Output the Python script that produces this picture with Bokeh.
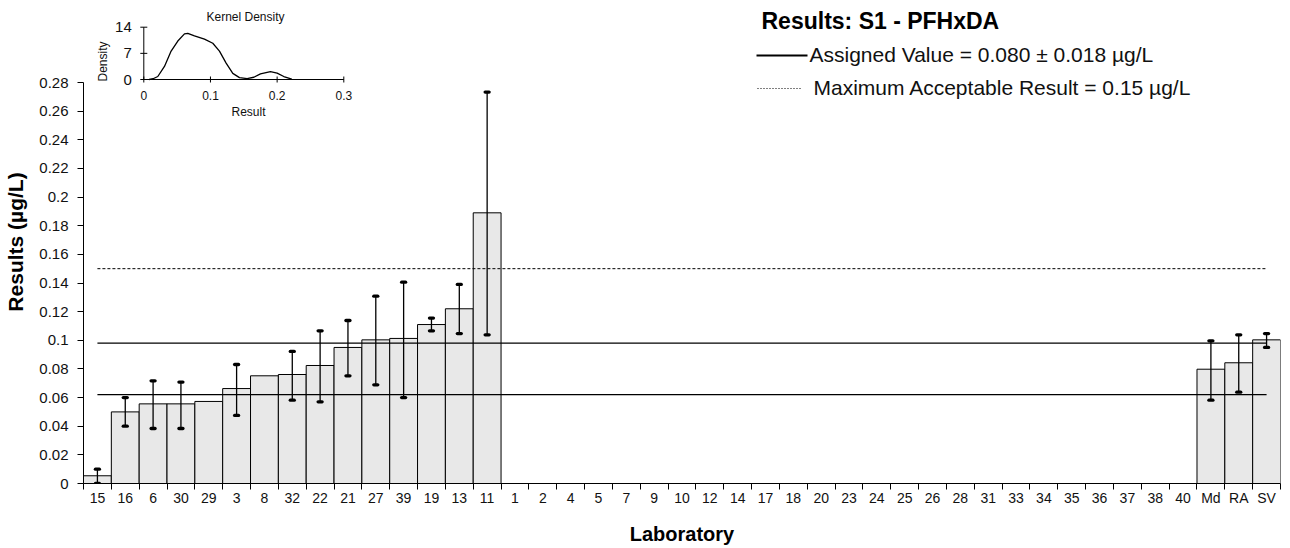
import math
from bokeh.plotting import figure
from bokeh.models import Range1d, FixedTicker, ColumnDataSource, Whisker, TeeHead
from bokeh.embed import file_html
from bokeh.resources import INLINE
from bokeh.core.properties import value

# ---------------- data ----------------
labs = ["15", "16", "6", "30", "29", "3", "8", "32", "22", "21", "27", "39", "19", "13", "11",
        "1", "2", "4", "5", "7", "9", "10", "12", "14", "17", "18", "20", "23", "24", "25",
        "26", "28", "31", "33", "34", "35", "36", "37", "38", "40",
        "Md", "RA", "SV"]
results = [0.0054, 0.050, 0.0556, 0.0556, 0.0573, 0.0663, 0.0752, 0.0761, 0.0824, 0.095,
           0.1003, 0.1013, 0.111, 0.122, 0.189] + [None] * 25 + [0.0798, 0.0843, 0.1003]
err_hi = [0.010, 0.060, 0.0717, 0.0708, None, 0.0831, None, 0.0922, 0.1066, 0.1138,
          0.1308, 0.1406, 0.1155, 0.139, 0.2733] + [None] * 25 + [0.0996, 0.1038, 0.1047]
err_lo = [0.0, 0.040, 0.0384, 0.0384, None, 0.0475, None, 0.0582, 0.057, 0.0752,
          0.0689, 0.060, 0.1066, 0.1047, 0.1038] + [None] * 25 + [0.0582, 0.0638, 0.095]

assigned = 0.080
assigned_unc = 0.018
max_acceptable = 0.15

y_ticks = ["0", "0.02", "0.04", "0.06", "0.08", "0.1", "0.12", "0.14", "0.16", "0.18",
           "0.2", "0.22", "0.24", "0.26", "0.28"]

kde_x = [0.008, 0.014, 0.021, 0.031, 0.041, 0.051, 0.061, 0.066, 0.076, 0.091, 0.1035,
         0.1135, 0.1235, 0.1335, 0.1435, 0.155, 0.165, 0.175, 0.19, 0.2, 0.21, 0.222]
kde_y = [0.0, 0.2, 0.8, 3.5, 7.6, 10.3, 12.2, 12.35, 11.7, 10.8, 9.7,
         7.6, 4.4, 1.65, 0.5, 0.25, 0.6, 1.5, 2.1, 1.7, 0.8, 0.1]
kde_xticks = ["0", "0.1", "0.2", "0.3"]
kde_yticks = ["0", "7", "14"]

title_text = "Results: S1 - PFHxDA"
legend_assigned = "Assigned Value = 0.080 \u00b1 0.018 \u00b5g/L"
legend_max = "Maximum  Acceptable  Result = 0.15 \u00b5g/L"

# ---------------- layout ----------------
FONT = "Liberation Sans"
W, H = 1290, 548
FL, FR, FT, FB = 83, 1280, 0, 483          # frame edges in canvas pixels
Y_TICK_TOP_PX = 82                           # canvas y of top tick
n = len(labs)
xc = [i + 0.5 for i in range(n)]
ytv = [float(t) for t in y_ticks]
px_per_y = (FB - Y_TICK_TOP_PX) / ytv[-1]
y_top = (FB - FT) / px_per_y

# inset anchors (canvas px)
K_X0, K_X1 = 143.3, 343.3     # kde x = first / last tick
K_Y0, K_Y1 = 79.0, 26.7       # kde y = first / last tick
kxt = [float(t) for t in kde_xticks]
kyt = [float(t) for t in kde_yticks]
k_ppx = (K_X1 - K_X0) / (kxt[-1] - kxt[0])
k_ppy = (K_Y0 - K_Y1) / (kyt[-1] - kyt[0])
kx0 = kxt[0] - (K_X0 - FL) / k_ppx
kx1 = kx0 + (FR - FL) / k_ppx
ky0 = kyt[0] - (FB - K_Y0) / k_ppy
ky1 = ky0 + (FB - FT) / k_ppy

p = figure(width=W, height=H, output_backend="svg", toolbar_location=None, title=None,
           x_range=Range1d(0, n), y_range=Range1d(0, y_top),
           min_border_left=FL, min_border_right=W - FR,
           min_border_top=FT, min_border_bottom=H - FB)
p.extra_x_ranges = {"px": Range1d(FL, FR), "kx": Range1d(kx0, kx1)}
p.extra_y_ranges = {"px": Range1d(FB, FT), "ky": Range1d(ky0, ky1)}
p.outline_line_color = None
p.xgrid.visible = False
p.ygrid.visible = False
p.background_fill_color = "white"
p.border_fill_color = "white"

# x axis
xa = p.xaxis[0]
xa.ticker = FixedTicker(ticks=xc, minor_ticks=list(range(n + 1)))
xa.major_label_overrides = {x: l for x, l in zip(xc, labs)}
xa.major_tick_line_color = None
xa.major_tick_out = 6
xa.major_tick_in = 0
xa.minor_tick_in = 0
xa.minor_tick_out = 6
xa.minor_tick_line_color = "black"
xa.axis_line_color = "black"
xa.major_label_standoff = 0
xa.major_label_text_font = FONT
xa.major_label_text_font_size = "14px"
xa.major_label_text_color = "#111111"
xa.axis_label = "Laboratory"
xa.axis_label_text_font = FONT
xa.axis_label_text_font_size = "20px"
xa.axis_label_text_font_style = "bold"
xa.axis_label_text_color = "black"
xa.axis_label_standoff = 14

# y axis
ya = p.yaxis[0]
ya.ticker = FixedTicker(ticks=ytv, minor_ticks=[])
ya.major_label_overrides = {v: t for v, t in zip(ytv, y_ticks)}
ya.bounds = (ytv[0], ytv[-1])
ya.major_tick_out = 6
ya.major_tick_in = 0
ya.minor_tick_line_color = None
ya.axis_line_color = "black"
ya.major_label_standoff = 9
ya.major_label_text_font = FONT
ya.major_label_text_font_size = "15px"
ya.major_label_text_color = "#111111"
ya.axis_label = "Results (\u00b5g/L)"
ya.axis_label_text_font = FONT
ya.axis_label_text_font_size = "21px"
ya.axis_label_text_font_style = "bold"
ya.axis_label_text_color = "black"
ya.axis_label_standoff = 9

# bars
bx = [x for x, r in zip(xc, results) if r is not None]
bt = [r for r in results if r is not None]
p.vbar(x=bx, top=bt, bottom=0, width=1.0, fill_color="#E8E8E8", line_color="black", line_width=1)

# reference lines
p.segment(x0=[xc[0]] * 2, x1=[xc[-1]] * 2,
          y0=[assigned + assigned_unc, assigned - assigned_unc],
          y1=[assigned + assigned_unc, assigned - assigned_unc],
          line_color="black", line_width=1.2)
p.segment(x0=[xc[0]], x1=[xc[-1]], y0=[max_acceptable], y1=[max_acceptable],
          line_color="black", line_width=1, line_dash="3 2")

# error bars
ex = [x for x, h in zip(xc, err_hi) if h is not None]
eh = [h for h in err_hi if h is not None]
el = [l for l in err_lo if l is not None]
esrc = ColumnDataSource(dict(x=ex, hi=eh, lo=el))
head = dict(size=4, line_width=3.3, line_color="black", line_cap="round")
p.add_layout(Whisker(source=esrc, base="x", upper="hi", lower="lo", line_color="black",
                     line_width=1.3, level="overlay",
                     upper_head=TeeHead(**head), lower_head=TeeHead(**head)))

# title & legend (canvas pixel coordinates)
PX = dict(x_range_name="px", y_range_name="px")
p.text(x=[761], y=[20], text=[title_text], text_font=value(FONT), text_font_size="23px",
       text_font_style="bold", text_baseline="middle", text_align="left", text_color="black", **PX)
p.segment(x0=[756], x1=[807], y0=[55], y1=[55], line_color="black", line_width=2, **PX)
p.text(x=[809], y=[54], text=[legend_assigned], text_font=value(FONT), text_font_size="21px",
       text_baseline="middle", text_align="left", text_color="#111111", **PX)
p.segment(x0=[757], x1=[800], y0=[88], y1=[88], line_color="black", line_width=1,
          line_dash="1 2", **PX)
p.text(x=[813], y=[87], text=[legend_max], text_font=value(FONT), text_font_size="21px",
       text_baseline="middle", text_align="left", text_color="#111111", **PX)

# inset kernel density
KK = dict(x_range_name="kx", y_range_name="ky")
p.line(x=kde_x, y=kde_y, line_color="black", line_width=1.3, **KK)
p.segment(x0=[kxt[0]], x1=[kxt[-1]], y0=[kyt[0]], y1=[kyt[0]], line_color="black", line_width=1, **KK)
p.segment(x0=[kxt[0]], x1=[kxt[0]], y0=[kyt[0]], y1=[kyt[-1]], line_color="black", line_width=1, **KK)
p.scatter(x=kxt, y=[kyt[0]] * len(kxt), marker="dash", angle=math.pi / 2, size=6,
          line_color="black", line_width=1, **KK)
p.scatter(x=[kxt[0]] * len(kyt), y=kyt, marker="dash", size=7,
          line_color="black", line_width=1, **KK)
p.text(x=kxt, y=[kyt[0]] * len(kxt), text=kde_xticks, y_offset=16, text_font=value(FONT),
       text_font_size="12px", text_align="center", text_baseline="middle", text_color="#111111", **KK)
p.text(x=[kxt[0]] * len(kyt), y=kyt, text=kde_yticks, x_offset=-12, text_font=value(FONT),
       text_font_size="15px", text_align="right", text_baseline="middle", text_color="#111111", **KK)
p.text(x=[245], y=[16], text=["Kernel Density"], text_font=value(FONT), text_font_size="12px",
       text_align="center", text_baseline="middle", text_color="#111111", **PX)
p.text(x=[248], y=[111], text=["Result"], text_font=value(FONT), text_font_size="12px",
       text_align="center", text_baseline="middle", text_color="#111111", **PX)
p.text(x=[102], y=[61], text=["Density"], angle=math.pi / 2, text_font=value(FONT),
       text_font_size="12px", text_align="center", text_baseline="middle", text_color="#111111", **PX)

open("out.html", "w").write(file_html(p, INLINE))
